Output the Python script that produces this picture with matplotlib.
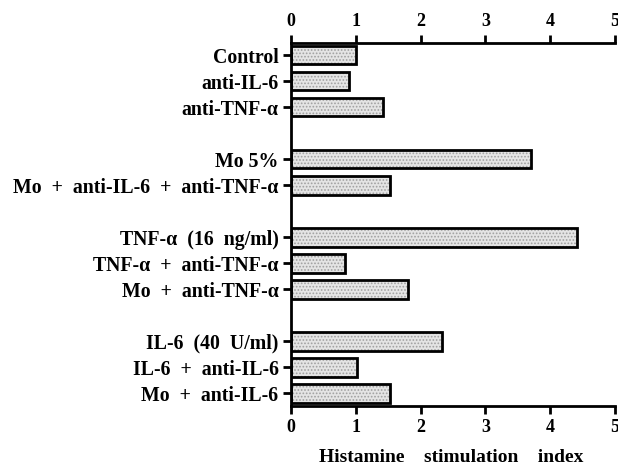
import matplotlib
matplotlib.use("Agg")
import matplotlib.pyplot as plt

categories = ["Control", "anti-IL-6", "anti-TNF-\u03b1",
              "Mo 5%", "Mo  +  anti-IL-6  +  anti-TNF-\u03b1",
              "TNF-\u03b1  (16  ng/ml)", "TNF-\u03b1  +  anti-TNF-\u03b1", "Mo  +  anti-TNF-\u03b1",
              "IL-6  (40  U/ml)", "IL-6  +  anti-IL-6", "Mo  +  anti-IL-6"]
values = [1.0, 0.9, 1.42, 3.7, 1.52, 4.41, 0.83, 1.8, 2.33, 1.02, 1.52]
positions = [0, 1, 2, 4, 5, 7, 8, 9, 11, 12, 13]
xticks = [0, 1, 2, 3, 4, 5]

plt.rcParams['font.family'] = ['Liberation Serif', 'DejaVu Serif']
plt.rcParams['font.weight'] = 'bold'
plt.rcParams['hatch.linewidth'] = 0.8

fig = plt.figure(figsize=(6.18, 4.74), dpi=100)
ax = fig.add_axes([0.471, 0.143, 0.524, 0.766])

# stippled fill
ax.barh(positions, values, height=0.72, color='#e4e4e4', edgecolor='#a0a0a0',
        linewidth=0, hatch='.....', align='center')
# black outline
ax.barh(positions, values, height=0.72, fill=False, edgecolor='black',
        linewidth=2, align='center')

ax.set_xlim(0, 5)
ax.set_ylim(13.5, -0.46)
ax.set_yticks(positions)
ax.set_yticklabels(categories, fontsize=14.3, fontweight='bold')
ax.set_xticks(xticks)
ax.set_xticklabels([str(t) for t in xticks], fontsize=13, fontweight='bold')
ax.tick_params(axis='x', which='both', top=True, labeltop=True, bottom=True, labelbottom=True,
               direction='out', length=6, width=2)
ax.tick_params(axis='y', direction='out', length=6, width=2, pad=3)
ax.spines['right'].set_visible(False)
for s in ['left', 'top', 'bottom']:
    ax.spines[s].set_linewidth(2)

fig.text(0.73, 0.035, "Histamine    stimulation    index", ha='center', va='center',
         fontsize=14, fontweight='bold')

fig.savefig("out.png", dpi=100)
